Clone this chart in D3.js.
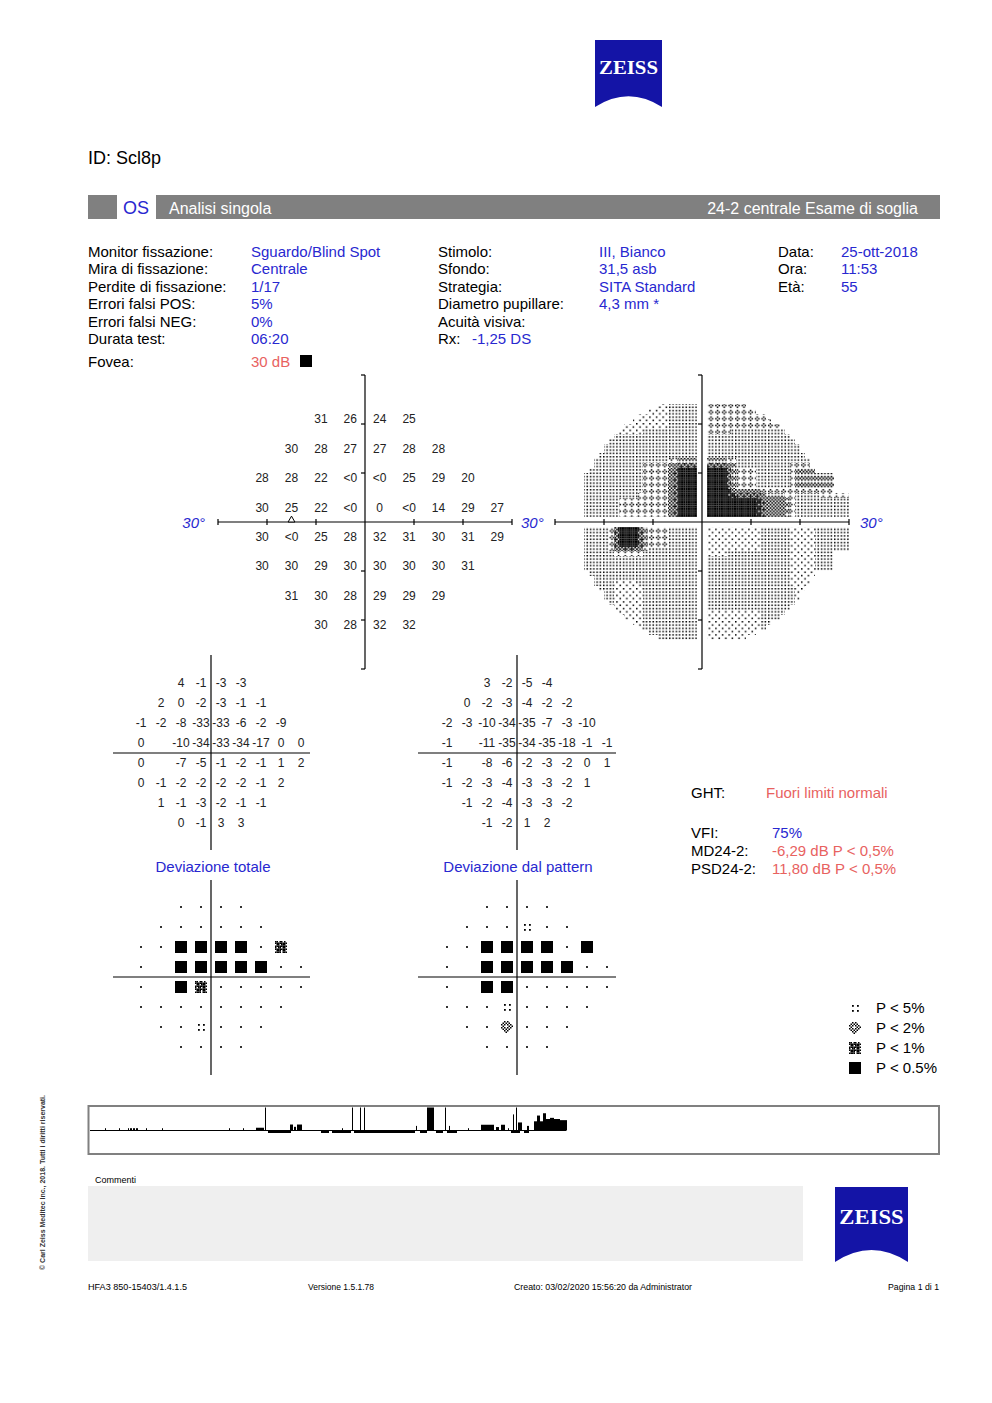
<!DOCTYPE html>
<html><head><meta charset="utf-8">
<script src="https://cdn.jsdelivr.net/npm/d3@7"></script>
<style>body{margin:0;background:#fff}svg{display:block}</style>
</head><body><svg id="c" width="992" height="1403"></svg>
<script>
// ---------------- DATA ----------------
const patientId = "ID: Scl8p";
const eye = "OS";
const headerLeft = "Analisi singola";
const headerRight = "24-2 centrale Esame di soglia";
const infoCol1Labels = ["Monitor fissazione:","Mira di fissazione:","Perdite di fissazione:","Errori falsi POS:","Errori falsi NEG:","Durata test:"];
const infoCol1Values = ["Sguardo/Blind Spot","Centrale","1/17","5%","0%","06:20"];
const infoCol2Labels = ["Stimolo:","Sfondo:","Strategia:","Diametro pupillare:","Acuità visiva:","Rx:"];
const infoCol2Values = ["III, Bianco","31,5 asb","SITA Standard","4,3 mm *","",""];
const rxValue = "-1,25 DS";
const infoCol3Labels = ["Data:","Ora:","Età:"];
const infoCol3Values = ["25-ott-2018","11:53","55"];
const foveaLabel = "Fovea:";
const foveaValue = "30 dB";

const rowDeg = [21,15,9,3,-3,-9,-15,-21];
const rowCols = [[-9,-3,3,9],[-15,-9,-3,3,9,15],[-21,-15,-9,-3,3,9,15,21],
  [-21,-15,-9,-3,3,9,15,21,27],[-21,-15,-9,-3,3,9,15,21,27],
  [-21,-15,-9,-3,3,9,15,21],[-15,-9,-3,3,9,15],[-9,-3,3,9]];
const thresholdRows = [
 ["31","26","24","25"],
 ["30","28","27","27","28","28"],
 ["28","28","22","<0","<0","25","29","20"],
 ["30","25","22","<0","0","<0","14","29","27"],
 ["30","<0","25","28","32","31","30","31","29"],
 ["30","30","29","30","30","30","30","31"],
 ["31","30","28","29","29","29"],
 ["30","28","32","32"]];
const totalDevRows = [
 ["4","-1","-3","-3"],
 ["2","0","-2","-3","-1","-1"],
 ["-1","-2","-8","-33","-33","-6","-2","-9"],
 ["0","","-10","-34","-33","-34","-17","0","0"],
 ["0","","-7","-5","-1","-2","-1","1","2"],
 ["0","-1","-2","-2","-2","-2","-1","2"],
 ["1","-1","-3","-2","-1","-1"],
 ["0","-1","3","3"]];
const patternDevRows = [
 ["3","-2","-5","-4"],
 ["0","-2","-3","-4","-2","-2"],
 ["-2","-3","-10","-34","-35","-7","-3","-10"],
 ["-1","","-11","-35","-34","-35","-18","-1","-1"],
 ["-1","","-8","-6","-2","-3","-2","0","1"],
 ["-1","-2","-3","-4","-3","-3","-2","1"],
 ["-1","-2","-4","-3","-3","-2"],
 ["-1","-2","1","2"]];
// probability codes: "." normal, "5" P<5%, "2" P<2%, "1" P<1%, "#" P<0.5%, " " none
const totalProbRows = ["....","......","..####.1",". #####..",". #1.....","........","..5...","...."];
const patternProbRows = ["....","...5..","..####.#",". #####..",". ##.....","...5....","..2...","...."];
const blindSpot = [-15, 0.4];
const legendLabels = ["P < 5%","P < 2%","P < 1%","P < 0.5%"];
const legendCodes = ["5","2","1","#"];
const ghtLabel = "GHT:", ghtValue = "Fuori limiti normali";
const indexLabels = ["VFI:","MD24-2:","PSD24-2:"];
const indexValues = ["75%","-6,29 dB P < 0,5%","11,80 dB P < 0,5%"];
const tdTitle = "Deviazione totale", pdTitle = "Deviazione dal pattern";
// gaze tracker: [sampleStart, sampleEnd, deviation (deg, 0-10)]
const gazeUp = [[15,15,1],[29,29,1],[38,38,1],[40,41,1],[43,44,1],[46,47,1],[56,56,1],[72,72,1],
 [139,139,1],[153,153,1],[166,173,1.2],[175,175,10],[200,202,2.6],[204,205,1.6],[207,211,2.6],
 [252,252,1],[262,262,10],[270,270,10],[274,274,10],
 [326,326,2],[337,343,10],[355,355,10],[359,359,2],[378,378,1],
 [391,403,2.5],[406,408,1.5],[411,414,2.5],[418,418,1],[423,423,7],[426,426,10],[428,431,3.5],
 [437,438,2],[444,446,4],[447,449,6.5],[450,452,4],[453,455,7.5],[456,459,5],[460,463,5.5],[464,469,5],[470,476,4.5]];
// blinks: [sampleStart, sampleEnd]
const gazeBlink = [[178,200],[231,238],[242,260],[264,324],[330,336],[346,352],[357,366],[421,429],[434,438]];
const commentLabel = "Commenti";
const footerTexts = ["HFA3 850-15403/1.4.1.5","Versione 1.5.1.78","Creato: 03/02/2020 15:56:20 da Administrator","Pagina 1 di 1"];
const copyright = "© Carl Zeiss Meditec Inc., 2018. Tutti i diritti riservati.";

// ---------------- DRAW ----------------
const BLUE = "#2828d0", RED = "#e8625f", ZBLUE = "#1414a6";
const FONT = '"Liberation Sans", Arial, sans-serif';
const svg = d3.select("#c");
const defs = svg.append("defs");
function T(x,y,s,o={}){
  const t = svg.append("text").attr("x",x).attr("y",y).text(s)
    .attr("font-size",o.fs||15).attr("fill",o.fill||"#000").style("font-family",o.family||FONT);
  if(o.anchor) t.attr("text-anchor",o.anchor);
  if(o.style) t.attr("font-style",o.style);
  if(o.weight) t.attr("font-weight",o.weight);
  if(o.len) t.attr("textLength",o.len).attr("lengthAdjust","spacingAndGlyphs");
  return t;
}
// Zeiss logo
function logo(x,y,w,h,fs,base){
  const a = h*0.16;
  svg.append("path").attr("d",`M${x},${y}H${x+w}V${y+h}Q${x+w/2},${y+h-2*a} ${x},${y+h}Z`).attr("fill",ZBLUE);
  T(x+w/2,y+base,"ZEISS",{fs:fs,fill:"#fff",anchor:"middle",weight:"bold",family:'"Liberation Serif", serif',len:w*0.88});
}
logo(595,40,67,67,18,33.5);
logo(835,1187,73,75,20,37);

T(88,164,patientId,{fs:18});
// header bar
svg.append("rect").attr("x",88).attr("y",195).attr("width",852).attr("height",24).attr("fill","#808080");
svg.append("rect").attr("x",117).attr("y",195).attr("width",39).attr("height",24).attr("fill","#fff");
T(123,214,eye,{fs:18,fill:BLUE});
T(169,213.5,headerLeft,{fs:16,fill:"#fff"});
T(918,213.5,headerRight,{fs:16,fill:"#fff",anchor:"end"});

// info
const infoY = d3.range(6).map(i=>257+i*17.4);
infoCol1Labels.forEach((s,i)=>T(88,infoY[i],s));
infoCol1Values.forEach((s,i)=>T(251,infoY[i],s,{fill:BLUE}));
infoCol2Labels.forEach((s,i)=>T(438,infoY[i],s));
infoCol2Values.forEach((s,i)=>T(599,infoY[i],s,{fill:BLUE}));
T(472,infoY[5],rxValue,{fill:BLUE});
infoCol3Labels.forEach((s,i)=>T(778,infoY[i],s));
infoCol3Values.forEach((s,i)=>T(841,infoY[i],s,{fill:BLUE}));
T(88,367,foveaLabel);
T(251,367,foveaValue,{fill:RED});
svg.append("rect").attr("x",300).attr("y",355).attr("width",12).attr("height",12).attr("fill","#000");

// axes helper
function axes(cx,cy,pxPerDeg,ext,ticks){
  const x = d3.scaleLinear().domain([-30,30]).range([cx-30*pxPerDeg,cx+30*pxPerDeg]);
  const y = d3.scaleLinear().domain([-30,30]).range([cy+30*pxPerDeg,cy-30*pxPerDeg]);
  const g = svg.append("g").attr("stroke","#000").attr("stroke-width",1.2);
  g.append("line").attr("x1",x(-ext[0])).attr("x2",x(ext[1])).attr("y1",cy).attr("y2",cy);
  g.append("line").attr("y1",y(ext[2])).attr("y2",y(-ext[3])).attr("x1",cx).attr("x2",cx);
  if(ticks){
    [-30,-20,-10,10,20,30].forEach(d=>{
      g.append("line").attr("x1",x(d)).attr("x2",x(d)).attr("y1",cy-3).attr("y2",cy+3);
      g.append("line").attr("x1",cx-4).attr("x2",cx).attr("y1",y(d)).attr("y2",y(d));
    });
  }
  return {x,y,g};
}
function numGrid(sc,rows,fs){
  rows.forEach((r,ri)=>r.forEach((v,ci)=>{
    if(v==="") return;
    T(sc.x(rowCols[ri][ci]),sc.y(rowDeg[ri])+fs*0.36,v,{fs:fs,anchor:"middle",fill:"#222"});
  }));
}
// threshold plot
const thr = axes(365,522,4.9,[30,30,30,30],true);
numGrid(thr,thresholdRows,12);
svg.append("path").attr("d",d3.symbol(d3.symbolTriangle,20)()).attr("transform",`translate(${thr.x(blindSpot[0])},${thr.y(blindSpot[1])})`)
  .attr("fill","#fff").attr("stroke","#000").attr("stroke-width",1);
T(205,528,"30°",{fs:15,fill:BLUE,style:"italic",anchor:"end"});
T(521,528,"30°",{fs:15,fill:BLUE,style:"italic"});

// grayscale tone patterns (4x4 tiles); dot = size of each set cell
const gsBits = [
 {b:["0000","0000","0000","0000"],dot:1.5},
 {b:["1000","0000","0000","0000"],dot:1.5},
 {b:["1000","0000","0010","0000"],dot:1.5},
 {b:["1010","0000","1010","0000"],dot:1.5},
 {b:["0100","1010","0100","0000"],dot:1.5},
 {b:["1010","0101","1010","0000"],dot:1.65},
 {b:["1010","0101","1010","0101"],dot:1.65},
 {b:["1110","0101","1011","0101"],dot:1.65},
 {b:["1111","1101","1111","0111"],dot:1.65},
 {b:["1111","1111","1111","1111"],dot:1.65}];
const PX = 1.65;
gsBits.forEach((d,l)=>{
  const p = defs.append("pattern").attr("id","gs"+l).attr("patternUnits","userSpaceOnUse")
    .attr("x",702).attr("y",522).attr("width",PX*4).attr("height",PX*4);
  d.b.forEach((row,j)=>row.split("").forEach((c,i)=>{
    if(c==="1") p.append("rect").attr("x",i*PX).attr("y",j*PX).attr("width",d.dot).attr("height",d.dot).attr("fill","#000");
  }));
});
const gsG = svg.append("g");
const gs = axes(702,522,4.9,[30,30,30,30],true);
const node = new Map();
thresholdRows.forEach((r,ri)=>r.forEach((v,ci)=>node.set(rowCols[ri][ci]+","+rowDeg[ri], v==="<0"?-1:+v)));
const nodeList = Array.from(node.entries()).map(([k,v])=>{const [a,b]=k.split(",").map(Number);return {x:a,y:b,v};});
function nv(x,y){
  const k=x+","+y; if(node.has(k)) return node.get(k);
  let best=null,bd=1e9; nodeList.forEach(n=>{const d=(n.x-x)**2+(n.y-y)**2; if(d<bd){bd=d;best=n;}});
  return best.v;
}
const gxs=[-21,-15,-9,-3,3,9,15,21,27], gys=[21,15,9,3,-3,-9,-15,-21];
const K = 2.5;
const sharp = t => Math.max(0,Math.min(1,(t-0.5)*K+0.5));
function valAt(x,y){
  let fx=Math.max(0,Math.min(8,(x+21)/6)), fy=Math.max(0,Math.min(7,(21-y)/6));
  const i0=Math.min(7,Math.floor(fx)), j0=Math.min(6,Math.floor(fy));
  const tx=sharp(fx-i0), ty=sharp(fy-j0);
  const v00=nv(gxs[i0],gys[j0]), v10=nv(gxs[i0+1],gys[j0]), v01=nv(gxs[i0],gys[j0+1]), v11=nv(gxs[i0+1],gys[j0+1]);
  return (v00*(1-tx)+v10*tx)*(1-ty)+(v01*(1-tx)+v11*tx)*ty;
}
function level(v){ if(v<=0.5) return 9; if(v>=41) return 0; return 9-Math.ceil((v-0.5)/5); }
const paths = d3.range(10).map(()=>[]);
const cell = 1;
for(let cxd=-24; cxd<30; cxd+=cell){
  for(let cyd=-24; cyd<24; cyd+=cell){
    const mx=cxd+cell/2, my=cyd+cell/2;
    if(Math.abs(mx)<1 || Math.abs(my)<1) continue;
    const r=Math.hypot(mx,my);
    const inside = r<=25 || (Math.abs(my)<=6 && mx<=30) || (Math.abs(my)<=9.5 && mx<=26.5);
    if(!inside) continue;
    const l = level(valAt(mx,my));
    const x0=gs.x(cxd), x1=gs.x(cxd+cell), y0=gs.y(cyd+cell), y1=gs.y(cyd);
    paths[l].push(`M${x0},${y0}H${x1}V${y1}H${x0}Z`);
  }
}
paths.forEach((p,l)=>{ if(p.length) gsG.append("path").attr("d",p.join("")).attr("fill",`url(#gs${l})`).attr("shape-rendering","crispEdges"); });
T(860,528,"30°",{fs:15,fill:BLUE,style:"italic"});

// deviation numbers
const td = axes(211,753,10/3,[29.4,29.7,29.4,29.1],false);
numGrid(td,totalDevRows,12);
const pd = axes(517,753,10/3,[29.7,29.7,29.4,29.1],false);
numGrid(pd,patternDevRows,12);
T(213,872,tdTitle,{fs:15,fill:BLUE,anchor:"middle"});
T(518,872,pdTitle,{fs:15,fill:BLUE,anchor:"middle"});

// probability symbols
const P2 = ["..#.#...",".#.#.#..","#.#.#.#.",".#...#.#","#.#.#.#.",".#.#.#..","..#.#...","...#...."];
const P1 = ["##.##.#.","########",".##.###.","########","#.##.##.","########",".###.##.","####.###"];
function sym(g,code,cx,cy){
  if(code===" ") return;
  if(code==="."){ g.append("rect").attr("x",cx-1).attr("y",cy-1).attr("width",2).attr("height",2).attr("fill","#333"); return; }
  if(code==="#"){ g.append("rect").attr("x",cx-6).attr("y",cy-6).attr("width",12).attr("height",12).attr("fill","#000"); return; }
  if(code==="5"){ [[-3,-3],[2,-3],[-3,2],[2,2]].forEach(([dx,dy])=>g.append("rect").attr("x",cx+dx).attr("y",cy+dy).attr("width",1.8).attr("height",1.8).attr("fill","#000")); return; }
  const bits = code==="2"?P2:P1; const s=1.5;
  bits.forEach((row,j)=>row.split("").forEach((c,i)=>{ if(c==="#") g.append("rect").attr("x",cx-6+i*s).attr("y",cy-6+j*s).attr("width",s).attr("height",s).attr("fill","#000"); }));
}
function probGrid(sc,rows){
  const g = svg.append("g");
  rows.forEach((r,ri)=>r.split("").forEach((c,ci)=>sym(g,c,sc.x(rowCols[ri][ci]),sc.y(rowDeg[ri]))));
}
const tp = axes(211,977,10/3,[29.4,29.7,29.1,29.4],false);
probGrid(tp,totalProbRows);
const pp = axes(517,977,10/3,[29.7,29.7,29.1,29.4],false);
probGrid(pp,patternProbRows);

// GHT and indices
T(691,798,ghtLabel,{fs:15}); T(766,798,ghtValue,{fs:15,fill:RED});
const idxY=[838,856,874];
indexLabels.forEach((s,i)=>T(691,idxY[i],s,{fs:15}));
indexValues.forEach((s,i)=>T(772,idxY[i],s,{fs:15,fill:i===0?BLUE:RED}));
// legend
const lg = svg.append("g");
legendCodes.forEach((c,i)=>{ sym(lg,c,855,1008+i*20); T(876,1013+i*20,legendLabels[i],{fs:15}); });

// gaze tracker
svg.append("rect").attr("x",88.5).attr("y",1106).attr("width",850.5).attr("height",48).attr("fill","none").attr("stroke","#808080").attr("stroke-width",2);
const gzx = d3.scaleLinear().domain([0,476]).range([90,566]);
const gzh = d3.scaleLinear().domain([0,10]).range([0,23]);
const base = 1130.5;
const gz = svg.append("g").attr("fill","#000");
gz.append("line").attr("x1",gzx(0)).attr("x2",gzx(476)).attr("y1",base).attr("y2",base).attr("stroke","#000");
gazeUp.forEach(([a,b,v])=>gz.append("rect").attr("x",gzx(a)).attr("width",Math.max(1,gzx(b+1)-gzx(a))).attr("y",base-gzh(v)).attr("height",gzh(v)));
gazeBlink.forEach(([a,b])=>gz.append("rect").attr("x",gzx(a)).attr("width",Math.max(1,gzx(b+1)-gzx(a))).attr("y",base).attr("height",2.5));

// comments
T(95,1183,commentLabel,{fs:9});
svg.append("rect").attr("x",88).attr("y",1186).attr("width",715).attr("height",75).attr("fill","#efefef");
// footer
T(88,1290,footerTexts[0],{fs:9,len:99});
T(308,1290,footerTexts[1],{fs:9,len:66});
T(514,1290,footerTexts[2],{fs:9,len:178});
T(939,1290,footerTexts[3],{fs:9,anchor:"end",len:51});
// copyright vertical
T(0,0,copyright,{fs:7,len:175,weight:"bold"}).attr("transform","translate(45,1270) rotate(-90)").attr("fill","#333");
</script></body></html>
